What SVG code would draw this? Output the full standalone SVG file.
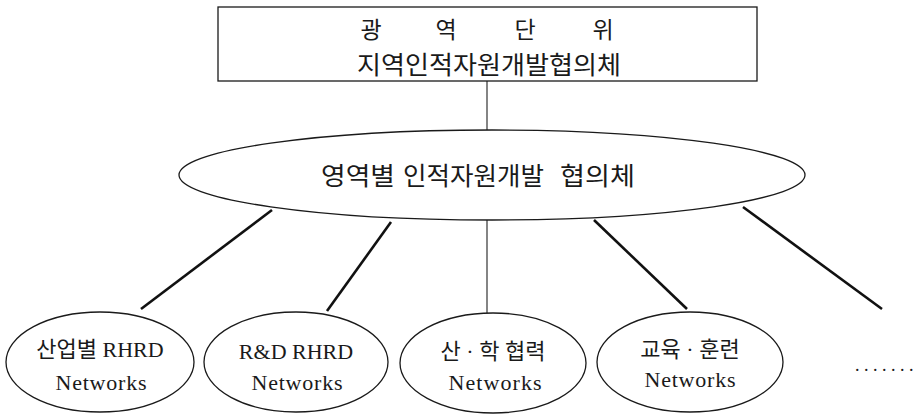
<svg xmlns="http://www.w3.org/2000/svg" width="916" height="414" viewBox="0 0 916 414">
<style>
.sh{fill:#fff;stroke:#1a1a1a;stroke-width:1.3}
.sans{font-family:"Noto Sans CJK KR","Noto Sans",sans-serif;fill:#1a1a1a;font-weight:400}
.ser{font-family:"Liberation Serif","Noto Sans CJK KR",serif;fill:#1a1a1a;font-size:22px;text-anchor:middle}
.thin{stroke:#333;stroke-width:1.2;fill:none}
.thick{stroke:#111;stroke-width:2.6;fill:none}
</style>
<rect width="916" height="414" fill="#fff"/>
<g id="connectors">
<line class="thin" x1="487" y1="81" x2="487" y2="130"/>
<line class="thick" x1="272" y1="210" x2="141" y2="309"/>
<line class="thick" x1="391" y1="222" x2="327" y2="311"/>
<line class="thin" x1="487" y1="220" x2="487" y2="313"/>
<line class="thick" x1="594" y1="220" x2="687" y2="309"/>
<line class="thick" x1="743" y1="207" x2="882" y2="309"/>
</g>
<g id="top">
<rect class="sh" x="218" y="7" width="539" height="74"/>
<text class="sans" font-size="23" text-anchor="middle" x="371 408 446 485 525 564 603" y="38">광 역 단 위</text>
<text class="sans" font-size="25" text-anchor="middle" x="489" y="74" textLength="264" lengthAdjust="spacingAndGlyphs">지역인적자원개발협의체</text>
</g>
<g id="mid">
<ellipse class="sh" cx="492" cy="175" rx="313" ry="45"/>
<text class="sans" font-size="25" y="185"><tspan x="321" textLength="74" lengthAdjust="spacingAndGlyphs">영역별</tspan><tspan x="403" textLength="141" lengthAdjust="spacingAndGlyphs">인적자원개발</tspan><tspan x="560" textLength="75" lengthAdjust="spacingAndGlyphs">협의체</tspan></text>
</g>
<g id="n1">
<ellipse class="sh" cx="100" cy="362" rx="94" ry="50"/>
<text class="ser" x="100" y="357">산업별 RHRD</text>
<text class="ser" x="101" y="390" textLength="91">Networks</text>
</g>
<g id="n2">
<ellipse class="sh" cx="296" cy="362" rx="92" ry="50"/>
<text class="ser" x="296" y="359">R&amp;D RHRD</text>
<text class="ser" x="297" y="390" textLength="91">Networks</text>
</g>
<g id="n3">
<ellipse class="sh" cx="493" cy="363" rx="93" ry="50"/>
<text class="ser" x="493" y="359">산 · 학 협력</text>
<text class="ser" x="495" y="390" textLength="93">Networks</text>
</g>
<g id="n4">
<ellipse class="sh" cx="690" cy="362" rx="93" ry="50"/>
<text class="ser" x="690" y="357">교육 · 훈련</text>
<text class="ser" x="690" y="387" textLength="91">Networks</text>
</g>
<g id="more">
<text style="font-family:'Liberation Serif',serif;fill:#1a1a1a" font-size="18" x="855 864 873 882 891 900 909" y="371">.......</text>
</g>
</svg>
